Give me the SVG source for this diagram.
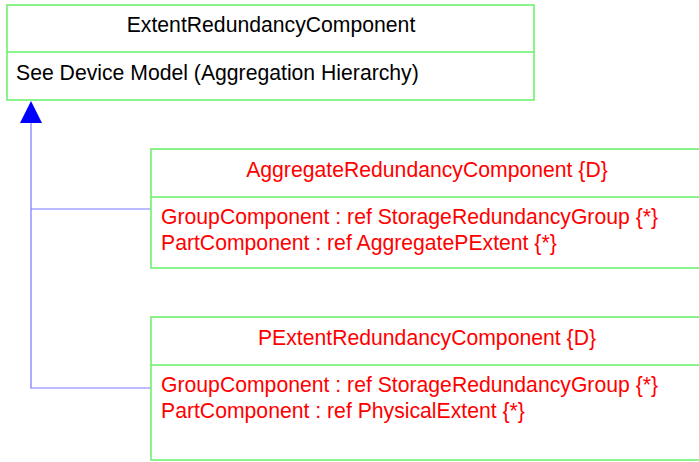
<svg xmlns="http://www.w3.org/2000/svg" width="699" height="462" viewBox="0 0 699 462">
<style>
.box{fill:#ffffff;stroke:#66f066;stroke-width:1.5}
.div{stroke:#66f066;stroke-width:1.5}
.t{font-family:"Liberation Sans",Arial,sans-serif;font-size:21.2px}
.k{fill:#000000}
.r{fill:#ff0000}
.c{text-anchor:middle}
.conn{fill:none;stroke:#7878ff;stroke-width:1.2}
</style>
<rect width="699" height="462" fill="#ffffff"/>
<g id="connectors">
<polyline class="conn" points="31,120 31,388 151,388"/>
<polyline class="conn" points="31,209 151,209"/>
<polygon points="31,101 20,123 42,123" fill="#0000ff"/>
</g>
<g id="ExtentRedundancyComponent">
<rect class="box" x="7" y="5" width="527" height="95"/>
<line class="div" x1="7" y1="52" x2="534" y2="52"/>
<text class="t k c" x="271" y="32">ExtentRedundancyComponent</text>
<text class="t k" x="16" y="80">See Device Model (Aggregation Hierarchy)</text>
</g>
<g id="AggregateRedundancyComponent">
<rect class="box" x="151" y="149" width="552" height="119"/>
<line class="div" x1="151" y1="197" x2="703" y2="197"/>
<text class="t r c" x="427" y="177">AggregateRedundancyComponent {D}</text>
<text class="t r" x="161" y="224">GroupComponent : ref StorageRedundancyGroup {*}</text>
<text class="t r" x="161" y="250">PartComponent : ref AggregatePExtent {*}</text>
</g>
<g id="PExtentRedundancyComponent">
<rect class="box" x="151" y="317" width="552" height="143"/>
<line class="div" x1="151" y1="365" x2="703" y2="365"/>
<text class="t r c" x="427" y="345">PExtentRedundancyComponent {D}</text>
<text class="t r" x="161" y="392">GroupComponent : ref StorageRedundancyGroup {*}</text>
<text class="t r" x="161" y="418">PartComponent : ref PhysicalExtent {*}</text>
</g>
</svg>
